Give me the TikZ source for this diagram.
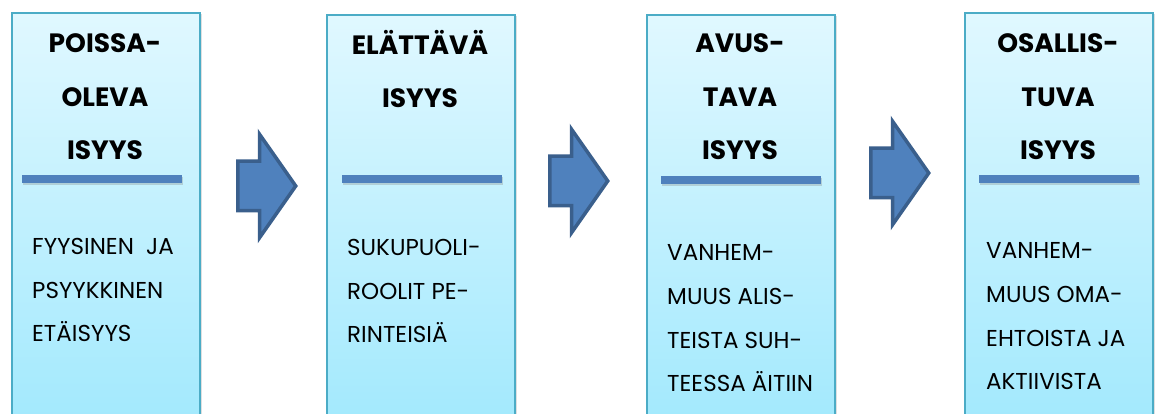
\documentclass[tikz,border=0pt]{standalone}
\usepackage{fontspec}
\setmainfont{Poppins}
\usetikzlibrary{positioning}
\usetikzlibrary{shapes.arrows}
\usetikzlibrary{shadows}

\definecolor{boxtop}{HTML}{E0F8FF}
\definecolor{boxbottom}{HTML}{9EE8FD}
\definecolor{boxline}{HTML}{4BACC6}
\definecolor{barblue}{HTML}{4F81BD}
\definecolor{arrowline}{HTML}{3A5F8C}

\tikzset{
  phasebox/.style={rectangle, draw=boxline, line width=1.6pt, top color=boxtop,
    bottom color=boxbottom, minimum width=188pt, minimum height=440pt,
    anchor=north west, inner sep=0pt,
    drop shadow={shadow xshift=2pt, shadow yshift=-1pt, opacity=0.25}},
  headtext/.style={anchor=base, align=center, inner sep=0pt,
    font={\fontsize{26.5}{53.5}\selectfont\bfseries}},
  bodytext/.style={anchor=base west, align=left, inner sep=0pt,
    font={\fontsize{23}{43.7}\selectfont}},
  sepbar/.style={rectangle, fill=barblue, minimum width=160pt, minimum height=8pt,
    inner sep=0pt, anchor=west,
    drop shadow={shadow xshift=1pt, shadow yshift=-2pt, opacity=0.3}},
  flowarrow/.style={single arrow, draw=arrowline, fill=barblue, line width=3.5pt,
    line join=miter, inner xsep=0pt, inner ysep=23pt, minimum height=58pt,
    single arrow head extend=27pt, single arrow tip angle=110, anchor=west}
}

\begin{document}
\begin{tikzpicture}[x=1pt, y=1pt]
  \useasboundingbox (0,0) rectangle (1155,414);
  \clip (0,0) rectangle (1155,414);
  \fill[white] (0,0) rectangle (1155,414);

  % phases
  \node[phasebox] (b1) at (11,402) {};
  \node[phasebox] (b2) at (326,400) {};
  \node[phasebox] (b3) at (646,400) {};
  \node[phasebox] (b4) at (964,402) {};

  % headings (anchored on the last line)
  \node[headtext] (h1) at (105,254) {POISSA-\\OLEVA\\ISYYS};
  \node[headtext] (h2) at (420,306) {ELÄTTÄVÄ\\ISYYS};
  \node[headtext] (h3) at (740,254) {AVUS-\\TAVA\\ISYYS};
  \node[headtext] (h4) at (1058,254) {OSALLIS-\\TUVA\\ISYYS};

  % bars
  \node[sepbar] (s1) at (22,235) {};
  \node[sepbar] (s2) at (342,235) {};
  \node[sepbar] (s3) at (661,234) {};
  \node[sepbar] (s4) at (979,235) {};

  % descriptions
  \node[bodytext] (t1) at (32,72) {FYYSINEN\ \ JA\\PSYYKKINEN\\ETÄISYYS};
  \node[bodytext] (t2) at (347,71) {SUKUPUOLI-\\ROOLIT PE-\\RINTEISIÄ};
  \node[bodytext] (t3) at (667,22) {VANHEM-\\MUUS ALIS-\\TEISTA SUH-\\TEESSA ÄITIIN};
  \node[bodytext] (t4) at (986,24) {VANHEM-\\MUUS OMA-\\EHTOISTA JA\\AKTIIVISTA};

  % arrows
  \node[flowarrow] (a1) at (236,228) {};
  \node[flowarrow] (a2) at (548,233) {};
  \node[flowarrow] (a3) at (869,241) {};
\end{tikzpicture}
\end{document}
